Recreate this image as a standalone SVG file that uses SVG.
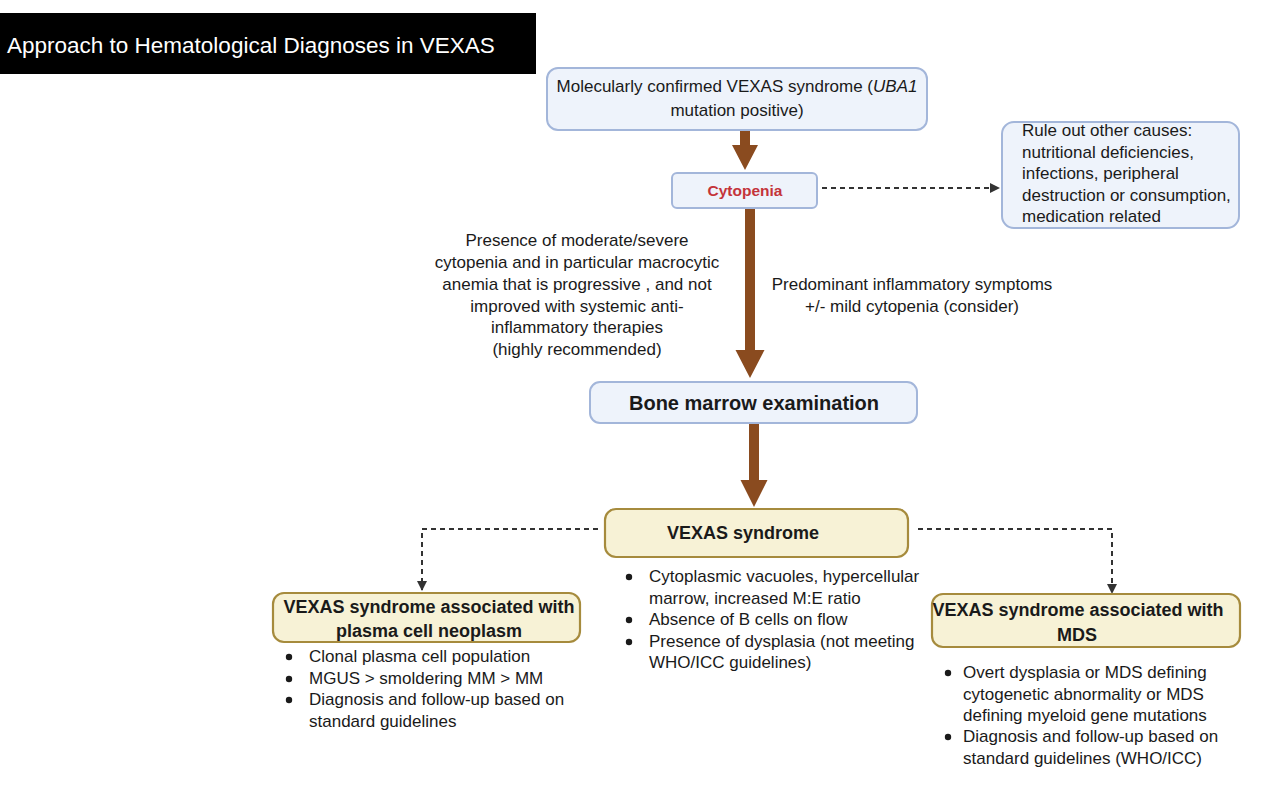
<svg xmlns="http://www.w3.org/2000/svg" width="1275" height="800" viewBox="0 0 1275 800">
<defs>
<style>
.t{font-family:"Liberation Sans",Arial,sans-serif;font-size:17px;fill:#1a1a1a}
.c{text-anchor:middle}
.b{font-weight:bold;font-size:18px}
.blue{fill:#eef3fb;stroke:#a3b6da;stroke-width:2}
.cream{fill:#f7f2d6;stroke:#a68b3d;stroke-width:2.2}
.brown{fill:#8a4b1f}
.dash{fill:none;stroke:#333;stroke-width:2;stroke-dasharray:5 4}
</style>
<marker id="ah" markerWidth="10" markerHeight="10" refX="9" refY="5" orient="auto" markerUnits="userSpaceOnUse">
<path d="M0,0 L10,5 L0,10 Z" fill="#333"/>
</marker>
</defs>
<rect width="1275" height="800" fill="#fff"/>

<g id="title">
<rect x="0" y="13" width="536" height="61" fill="#000"/>
<text x="7" y="53" font-family="Liberation Sans, Arial, sans-serif" font-size="22.5" fill="#fff">Approach to Hematological Diagnoses in VEXAS</text>
</g>

<g id="connectors">
<polygon class="brown" points="740,129 750,129 750,145 758,145 745,170 732,145 740,145"/>
<polygon class="brown" points="745,208 755,208 755,350 764.5,350 750,378 735.5,350 745,350"/>
<polygon class="brown" points="749,424 759,424 759,480 767.5,480 754,507 740.5,480 749,480"/>
<line class="dash" x1="822" y1="188" x2="999" y2="188" marker-end="url(#ah)"/>
<polyline class="dash" points="598,529 422,529 422,590" marker-end="url(#ah)"/>
<polyline class="dash" points="918,529 1112,529 1112,593" marker-end="url(#ah)"/>
</g>

<g id="node-confirmed">
<rect class="blue" x="547" y="68" width="380" height="62" rx="11"/>
<text class="t c" x="737" y="92">Molecularly confirmed VEXAS syndrome (<tspan font-style="italic">UBA1</tspan></text>
<text class="t c" x="737" y="116">mutation positive)</text>
</g>

<g id="node-cytopenia">
<rect class="blue" x="672" y="173" width="145" height="35" rx="5"/>
<text class="t c" x="745" y="196" font-weight="bold" font-size="15.5" fill="#c4343a" style="fill:#c4343a;font-size:15.5px">Cytopenia</text>
</g>

<g id="node-ruleout">
<rect class="blue" x="1002" y="122" width="237" height="106" rx="12"/>
<text class="t" x="1022" y="136">Rule out other causes:</text>
<text class="t" x="1022" y="158">nutritional deficiencies,</text>
<text class="t" x="1022" y="179">infections, peripheral</text>
<text class="t" x="1022" y="201">destruction or consumption,</text>
<text class="t" x="1022" y="222">medication related</text>
</g>

<g id="label-left">
<text class="t c" x="577" y="246">Presence of moderate/severe</text>
<text class="t c" x="577" y="268">cytopenia and in particular macrocytic</text>
<text class="t c" x="577" y="290">anemia that is progressive , and not</text>
<text class="t c" x="577" y="312">improved with systemic anti-</text>
<text class="t c" x="577" y="333">inflammatory therapies</text>
<text class="t c" x="577" y="355">(highly recommended)</text>
</g>

<g id="label-right">
<text class="t c" x="912" y="290">Predominant inflammatory symptoms</text>
<text class="t c" x="912" y="312">+/- mild cytopenia (consider)</text>
</g>

<g id="node-bonemarrow">
<rect class="blue" x="590" y="382" width="327" height="41" rx="10"/>
<text class="t c" x="754" y="410" font-weight="bold" style="font-size:20px;font-weight:bold">Bone marrow examination</text>
</g>

<g id="node-vexas">
<rect class="cream" x="605" y="509" width="303" height="48" rx="11"/>
<text class="t b c" x="743" y="539">VEXAS syndrome</text>
<circle cx="629" cy="577" r="3.2" fill="#1a1a1a"/>
<circle cx="629" cy="620" r="3.2" fill="#1a1a1a"/>
<circle cx="629" cy="642" r="3.2" fill="#1a1a1a"/>
<text class="t" x="649" y="582">Cytoplasmic vacuoles, hypercellular</text>
<text class="t" x="649" y="604">marrow, increased M:E ratio</text>
<text class="t" x="649" y="625">Absence of B cells on flow</text>
<text class="t" x="649" y="647">Presence of dysplasia (not meeting</text>
<text class="t" x="649" y="668">WHO/ICC guidelines)</text>
</g>

<g id="node-plasma">
<rect class="cream" x="273" y="593" width="307" height="49" rx="11"/>
<text class="t b c" x="429" y="613">VEXAS syndrome associated with</text>
<text class="t b c" x="429" y="637">plasma cell neoplasm</text>
<circle cx="289" cy="657" r="3.2" fill="#1a1a1a"/>
<circle cx="289" cy="679" r="3.2" fill="#1a1a1a"/>
<circle cx="289" cy="700" r="3.2" fill="#1a1a1a"/>
<text class="t" x="309" y="662">Clonal plasma cell population</text>
<text class="t" x="309" y="684">MGUS &gt; smoldering MM &gt; MM</text>
<text class="t" x="309" y="705">Diagnosis and follow-up based on</text>
<text class="t" x="309" y="727">standard guidelines</text>
</g>

<g id="node-mds">
<rect class="cream" x="932" y="594" width="308" height="53" rx="11"/>
<text class="t b c" x="1078" y="616">VEXAS syndrome associated with</text>
<text class="t b c" x="1077" y="641">MDS</text>
<circle cx="948" cy="673" r="3.2" fill="#1a1a1a"/>
<circle cx="948" cy="737" r="3.2" fill="#1a1a1a"/>
<text class="t" x="963" y="678">Overt dysplasia or MDS defining</text>
<text class="t" x="963" y="700">cytogenetic abnormality or MDS</text>
<text class="t" x="963" y="721">defining myeloid gene mutations</text>
<text class="t" x="963" y="742">Diagnosis and follow-up based on</text>
<text class="t" x="963" y="764">standard guidelines (WHO/ICC)</text>
</g>
</svg>
